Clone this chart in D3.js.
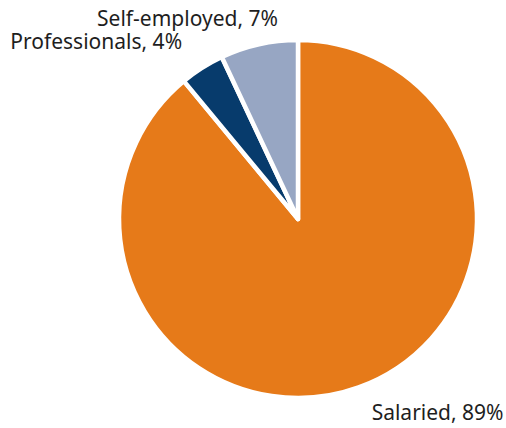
<!DOCTYPE html>
<html>
<head>
<meta charset="utf-8">
<script src="https://cdn.jsdelivr.net/npm/d3@7"></script>
<style>
  html, body { margin: 0; padding: 0; background: #fff; }
  svg { display: block; }
  text { font-family: "Noto Sans", Lato, sans-serif; font-size: 21px; fill: #1e1e1e; }
</style>
</head>
<body>
<svg id="chart" width="506" height="428"></svg>
<script>
// Employment type shares (%)
const categories = ["Salaried", "Professionals", "Self-employed"];
const shares = [89, 4, 7];
const colors = ["#E67A19", "#073B6C", "#97A6C3"];

const width = 506, height = 428;
const cx = 298, cy = 219, radius = 179;

const svg = d3.select("#chart");
const g = svg.append("g").attr("transform", `translate(${cx},${cy})`);

const data = categories.map((c, i) => ({ name: c, value: shares[i], color: colors[i] }));

const pie = d3.pie().value(d => d.value).sort(null);
const arc = d3.arc().innerRadius(0).outerRadius(radius);
const arcs = pie(data);

g.selectAll("path.slice")
  .data(arcs)
  .join("path")
  .attr("class", "slice")
  .attr("d", arc)
  .attr("fill", d => d.data.color)
  .attr("stroke", "#fff")
  .attr("stroke-width", 4.5)
  .attr("stroke-linejoin", "round");

// Label placement: anchor at the slice's outer edge midpoint, then nudge outward
const nudges = [[13, 33, "start"], [-20, -19, "end"], [19, -18, "end"]];
g.selectAll("text.label")
  .data(arcs)
  .join("text")
  .attr("class", "label")
  .each(function (d, i) {
    const a = (d.startAngle + d.endAngle) / 2;
    const x = Math.sin(a) * radius + nudges[i][0];
    const y = -Math.cos(a) * radius + nudges[i][1];
    d3.select(this)
      .attr("x", x)
      .attr("y", y)
      .attr("text-anchor", nudges[i][2])
      .text(`${d.data.name}, ${d.data.value}%`);
  });
</script>
</body>
</html>
